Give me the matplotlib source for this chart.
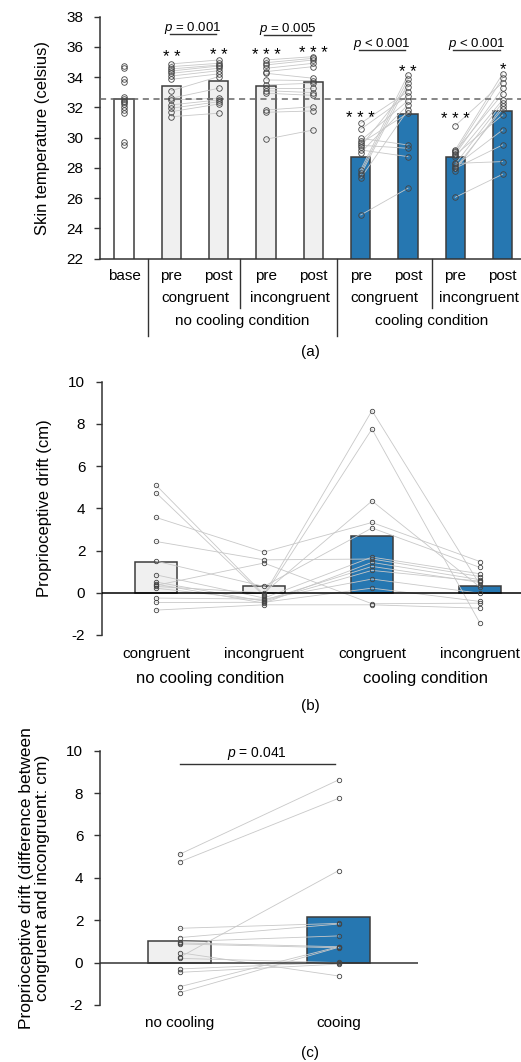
import matplotlib
matplotlib.use('Agg')
import matplotlib.pyplot as plt
import matplotlib.transforms as mtransforms

plt.rcParams['font.family'] = ['Liberation Sans', 'DejaVu Sans']
plt.rcParams['mathtext.fontset'] = 'custom'
plt.rcParams['mathtext.rm'] = 'Liberation Sans'
plt.rcParams['mathtext.it'] = 'Liberation Sans:italic'
plt.rcParams['axes.unicode_minus'] = False

GREY = '#f0f0f0'
BLUE = '#2677b1'
EDGE = '#3c3c3c'
LINK = '#c8c8c8'
W, H = 521, 1062

# ---------- panel (a): skin temperature ----------
a_ticks = ['base', 'pre', 'post', 'pre', 'post', 'pre', 'post', 'pre', 'post']
a_means = [32.57, 33.41, 33.72, 33.41, 33.70, 28.74, 31.58, 28.70, 31.78]
a_colors = ['white', GREY, GREY, GREY, GREY, BLUE, BLUE, BLUE, BLUE]

temp_base = [34.74, 34.59, 33.86, 33.71, 32.71, 32.54, 32.45, 32.38, 32.21, 32.01, 31.83, 31.62, 29.74, 29.52]
nc_cong_pre = [34.88, 34.70, 34.55, 34.41, 34.26, 34.08, 33.86, 33.11, 32.61, 32.50, 32.17, 31.95, 31.72, 31.39]
nc_cong_post = [35.14, 34.92, 34.80, 34.74, 34.59, 34.43, 34.22, 34.04, 33.27, 32.61, 32.50, 32.38, 32.23, 31.62]
nc_incong_pre = [35.14, 34.96, 34.81, 34.59, 34.37, 34.26, 33.82, 33.49, 33.27, 33.11, 32.94, 31.83, 31.68, 29.90]
nc_incong_post = [35.36, 35.25, 35.14, 34.92, 34.70, 33.93, 33.77, 33.60, 33.27, 32.98, 32.80, 32.05, 31.77, 30.51]
c_cong_pre = [30.95, 30.56, 29.96, 29.80, 29.63, 29.50, 29.41, 29.19, 29.01, 27.87, 27.69, 27.54, 27.32, 24.89]
c_cong_post = [33.04, 32.78, 29.52, 32.45, 31.62, 29.30, 33.34, 28.75, 32.17, 34.15, 33.87, 33.60, 31.83, 26.66]
c_incong_pre = [30.80, 29.19, 29.10, 29.04, 28.90, 28.86, 28.71, 28.30, 28.26, 28.13, 28.00, 27.98, 27.82, 26.06]
c_incong_post = [33.64, 34.22, 32.89, 33.93, 33.27, 31.50, 32.50, 28.42, 32.32, 30.51, 31.90, 29.52, 32.10, 27.58]

a_stars = ['', '* *', '* *', '* * *', '* * *', '* * *', '* *', '* * *', '*']
a_star_y = [0, 35.69, 35.80, 35.80, 35.95, 31.68, 34.70, 31.62, 34.92]
a_pvals = ['$p$ = 0.001', '$p$ = 0.005', '$p$ < 0.001', '$p$ < 0.001']
a_pline = [36.88, 36.79, 35.80, 35.80]
a_groups = ['congruent', 'incongruent', 'congruent', 'incongruent']
a_conditions = ['no cooling condition', 'cooling condition']

# ---------- panel (b): proprioceptive drift ----------
b_ticks = ['congruent', 'incongruent', 'congruent', 'incongruent']
b_means = [1.45, 0.33, 2.67, 0.30]
b_colors = [GREY, GREY, BLUE, BLUE]
drift_nc_cong = [5.10, 4.74, 0.30, 3.57, 1.50, 0.85, 2.43, 0.41, 0.22, 0.51, -0.25, -0.46, 0.35, -0.82]
drift_nc_incong = [-0.09, -0.15, 0.00, 1.93, 0.30, -0.25, 1.56, -0.49, -0.36, -0.40, -0.30, -0.45, 1.41, -0.57]
drift_c_cong = [8.63, 7.76, 4.35, 3.33, 3.07, 1.69, 1.60, 1.44, 1.25, 1.06, 0.65, 0.22, -0.52, -0.57]
drift_c_incong = [0.38, -1.44, 0.27, 1.48, 1.20, 0.90, 0.77, 0.62, 0.49, 0.55, -0.02, -0.41, -0.49, -0.73]

# ---------- panel (c): congruent - incongruent ----------
c_ticks = ['no cooling', 'cooing']
c_means = [1.03, 2.17]
c_colors = [GREY, BLUE]
diff_nc = [5.11, 4.75, 0.25, 1.62, 1.18, 0.99, 0.93, 0.88, 0.20, 0.47, -0.30, -0.46, -1.14, -1.42]
diff_c = [8.62, 7.75, 4.34, 1.85, 1.82, 1.26, 0.75, 0.70, 0.00, -0.63, 0.01, -0.07, 0.75, 0.72]


def rect(left, right, top, bottom):
    return [left / W, 1 - bottom / H, (right - left) / W, (bottom - top) / H]


def style_y(ax):
    for s in ['top', 'right']:
        ax.spines[s].set_visible(False)
    ax.spines['left'].set_color('#333333')
    ax.spines['left'].set_linewidth(1.1)
    ax.tick_params(axis='y', direction='out', length=4, width=1, color='#333333',
                   labelsize=11, pad=8)
    ax.set_xticks([])


def paired(ax, x0, x1, y0, y1, ms):
    for u, v in zip(y0, y1):
        ax.plot([x0, x1], [u, v], color=LINK, lw=0.6, zorder=3)
    for x, ys in [(x0, y0), (x1, y1)]:
        ax.plot([x] * len(ys), ys, 'o', ms=ms, mfc='none', mec='#444444', mew=0.6, zorder=4)


fig = plt.figure(figsize=(W / 100, H / 100), dpi=100)

# ===== (a) =====
ax = fig.add_axes(rect(100, 521, 16.7, 258.7))
xs = list(range(len(a_means)))
ax.bar(xs, a_means, width=0.41, color=a_colors, edgecolor=EDGE, linewidth=1.1, zorder=2)
ax.plot([0] * len(temp_base), temp_base, 'o', ms=4, mfc='none', mec='#444444', mew=0.6, zorder=4)
pairs = [(nc_cong_pre, nc_cong_post), (nc_incong_pre, nc_incong_post),
         (c_cong_pre, c_cong_post), (c_incong_pre, c_incong_post)]
for k, (pre, post) in enumerate(pairs):
    paired(ax, 1 + 2 * k, 2 + 2 * k, pre, post, 4)
ax.axhline(a_means[0], color='#666666', lw=1.1, ls=(0, (4, 3)), zorder=3.5)
ax.set_ylim(22, 38)
ax.set_yticks(range(22, 39, 2))
ax.set_xlim(-0.51, 8.39)
style_y(ax)
ax.spines['bottom'].set_color('#333333')
ax.spines['bottom'].set_linewidth(1.1)
ax.set_ylabel('Skin temperature (celsius)', fontsize=12)
ax.yaxis.set_label_coords(-0.119, 0.5)

for x, s, y in zip(xs, a_stars, a_star_y):
    if s:
        ax.text(x, y - 0.69, s, ha='center', va='baseline', fontsize=12)
for k, p in enumerate(a_pvals):
    x0, x1 = 1 + 2 * k, 2 + 2 * k
    ly = a_pline[k]
    ax.plot([x0 - 0.04, x1 - 0.06], [ly, ly], color='#333333', lw=1, clip_on=False)
    ax.text((x0 + x1) / 2 - 0.05, ly + 0.17, p, ha='center', va='baseline', fontsize=9.5)

tr = mtransforms.blended_transform_factory(ax.transData, ax.transAxes)
for x, t in zip(xs, a_ticks):
    ax.text(x, -0.072, t, transform=tr, ha='center', va='center', fontsize=11)
for k, g in enumerate(a_groups):
    ax.text(1.5 + 2 * k, -0.162, g, transform=tr, ha='center', va='center', fontsize=11)
for k, c in enumerate(a_conditions):
    ax.text(2.5 + 4 * k, -0.257, c, transform=tr, ha='center', va='center', fontsize=11)
for x, y in [(0.5, -0.32), (2.45, -0.205), (4.5, -0.32), (6.5, -0.205)]:
    ax.plot([x, x], [0, y], transform=tr, color='#333333', lw=1, clip_on=False)
fig.text(0.5 * (100 + 521) / W, 1 - 352 / H, '(a)', ha='center', va='center', fontsize=11)

# ===== (b) =====
ax = fig.add_axes(rect(102, 521, 381.7, 635))
xs = list(range(len(b_means)))
ax.bar(xs, b_means, width=0.39, color=b_colors, edgecolor=EDGE, linewidth=1.1, zorder=2)
series = [drift_nc_cong, drift_nc_incong, drift_c_cong, drift_c_incong]
for i in range(len(drift_nc_cong)):
    ax.plot(xs, [s[i] for s in series], color=LINK, lw=0.6, zorder=3)
for x, s in zip(xs, series):
    ax.plot([x] * len(s), s, 'o', ms=3.2, mfc='none', mec='#444444', mew=0.6, zorder=4)
ax.axhline(0, color='black', lw=1.1, zorder=3.5)
ax.set_ylim(-2, 10)
ax.set_yticks(range(-2, 11, 2))
ax.set_xlim(-0.5, 3.38)
style_y(ax)
ax.spines['bottom'].set_visible(False)
ax.set_ylabel('Proprioceptive drift (cm)', fontsize=12)
ax.yaxis.set_label_coords(-0.119, 0.5)
tr = mtransforms.blended_transform_factory(ax.transData, ax.transAxes)
for x, t in zip(xs, b_ticks):
    ax.text(x, -0.075, t, transform=tr, ha='center', va='center', fontsize=11)
for k, c in enumerate(a_conditions):
    ax.text(0.5 + 2 * k, -0.17, c, transform=tr, ha='center', va='center', fontsize=12)
fig.text(0.5 * (100 + 521) / W, 1 - 706 / H, '(b)', ha='center', va='center', fontsize=11)

# ===== (c) =====
ax = fig.add_axes(rect(100, 418, 750.7, 1005))
xs = list(range(len(c_means)))
ax.bar(xs, c_means, width=0.40, color=c_colors, edgecolor=EDGE, linewidth=1.1, zorder=2)
paired(ax, 0, 1, diff_nc, diff_c, 3.2)
ax.axhline(0, color='#333333', lw=1.1, zorder=3.5)
ax.set_ylim(-2, 10)
ax.set_yticks(range(-2, 11, 2))
ax.set_xlim(-0.5, 1.5)
style_y(ax)
ax.spines['bottom'].set_visible(False)
ax.set_ylabel('Proprioceptive drift (difference between\ncongruent and incongruent: cm)',
              fontsize=12.5, linespacing=1.05)
ax.yaxis.set_label_coords(-0.157, 0.5)
ax.plot([0, 0.98], [9.39, 9.39], color='#333333', lw=1)
ax.text(0.49, 9.68, '$p$ = 0.041', ha='center', va='baseline', fontsize=10)
tr = mtransforms.blended_transform_factory(ax.transData, ax.transAxes)
for x, t in zip(xs, c_ticks):
    ax.text(x, -0.071, t, transform=tr, ha='center', va='center', fontsize=11)
fig.text(0.5 * (100 + 521) / W, 1 - 1053 / H, '(c)', ha='center', va='center', fontsize=11)

fig.savefig('out.png', dpi=100)
